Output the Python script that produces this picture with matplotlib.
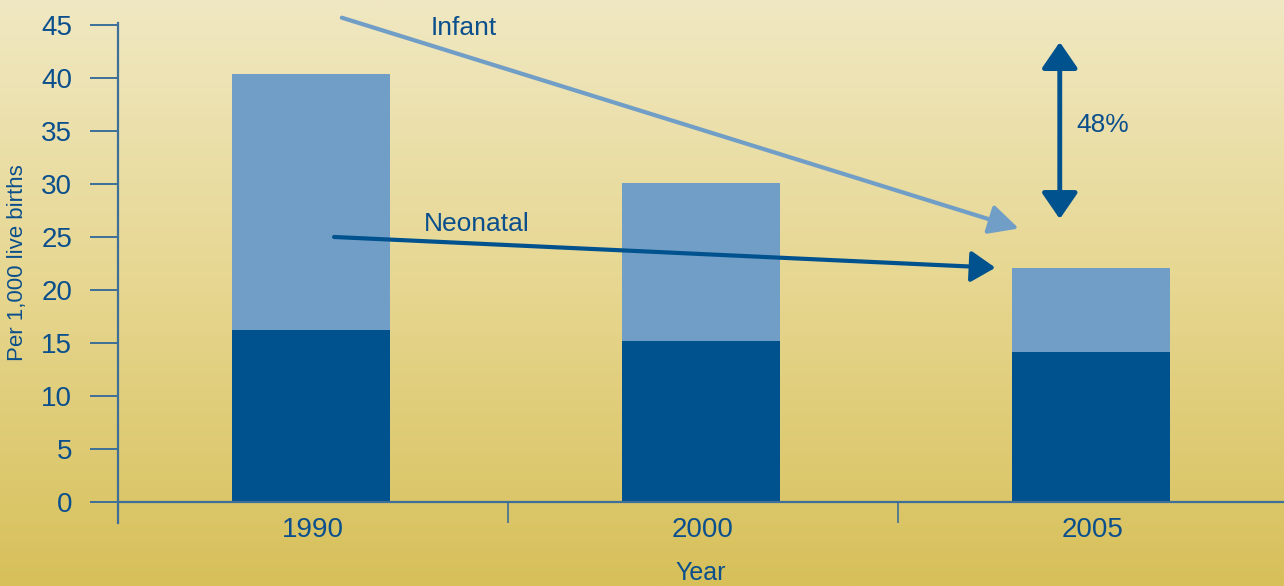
import numpy as np
import matplotlib.pyplot as plt
from matplotlib.colors import LinearSegmentedColormap

years = ["1990", "2000", "2005"]
neonatal = [16.2, 15.2, 14.1]
infant = [40.4, 30.1, 22.1]
yticks = [0, 5, 10, 15, 20, 25, 30, 35, 40, 45]

DARK = "#00528f"
LIGHT = "#709ec6"
AXIS = "#3d6f98"
TEXT = "#0b4f8c"
FONT = ["Liberation Sans", "DejaVu Sans"]

fig = plt.figure(figsize=(12.84, 5.86), dpi=100)

# background gradient
bg = fig.add_axes([0, 0, 1, 1], zorder=0)
grad = LinearSegmentedColormap.from_list("bg", ["#d7c05a", "#e6d68f", "#f0e8c2"])
bg.imshow(np.linspace(0, 1, 256).reshape(-1, 1), aspect="auto", cmap=grad,
          origin="lower", extent=[0, 1, 0, 1])
bg.axis("off")

ax = fig.add_axes([118 / 1284, 63 / 586, 1166 / 1284, 500 / 586], zorder=1)
ax.patch.set_alpha(0)

x = np.arange(len(years))
w = 0.405
ax.bar(x - 0.005, neonatal, width=w, color=DARK, zorder=2)
ax.bar(x - 0.005, np.array(infant) - np.array(neonatal), bottom=neonatal, width=w,
       color=LIGHT, zorder=2)

ax.set_xlim(-0.5, 2.49)
ax.set_ylim(-2.0, 45.2)

for s in ["top", "right", "bottom"]:
    ax.spines[s].set_visible(False)
ax.spines["left"].set_color(AXIS)
ax.spines["left"].set_linewidth(1.6)
ax.axhline(0, color=AXIS, lw=1.6, zorder=3)
ax.vlines([0.5, 1.5], -2.0, 0, color=AXIS, lw=1.2)

ax.set_yticks(yticks)
ax.set_yticklabels([str(v) for v in yticks], family=FONT, fontsize=20, color=TEXT)
ax.tick_params(axis="y", length=20, width=1.4, color=AXIS, pad=13)
ax.set_xticks(x)
ax.set_xticklabels(years, family=FONT, fontsize=20, color=TEXT)
ax.tick_params(axis="x", length=0, pad=-4)

ax.set_ylabel("Per 1,000 live births", family=FONT, fontsize=16, color=TEXT)
ax.yaxis.set_label_coords(-90 / 1166, 0.52)
ax.set_xlabel("Year", family=FONT, fontsize=18, color=TEXT)
ax.xaxis.set_label_coords(0.5, -0.076)

# trend arrows
ax.annotate("", xy=(1.81, 25.8), xytext=(0.074, 45.7),
            arrowprops=dict(arrowstyle="-|>,head_length=1.8,head_width=0.9",
                            color=LIGHT, lw=3, shrinkA=0, shrinkB=0),
            annotation_clip=False, zorder=4)
ax.annotate("", xy=(1.75, 22.1), xytext=(0.054, 25.0),
            arrowprops=dict(arrowstyle="-|>,head_length=1.5,head_width=0.95",
                            color=DARK, lw=3, shrinkA=0, shrinkB=0),
            zorder=4)
ax.annotate("", xy=(1.915, 43.4), xytext=(1.915, 26.7),
            arrowprops=dict(arrowstyle="<|-|>,head_length=1.6,head_width=1.1",
                            color=DARK, lw=3.5, shrinkA=0, shrinkB=0),
            zorder=4)

ax.text(0.387, 44.7, "Infant", family=FONT, fontsize=19, color=TEXT,
        ha="center", va="center")
ax.text(0.42, 26.2, "Neonatal", family=FONT, fontsize=19, color=TEXT,
        ha="center", va="center")
ax.text(1.957, 35.6, "48%", family=FONT, fontsize=19, color=TEXT,
        ha="left", va="center")

fig.savefig("out.png", dpi=100)
